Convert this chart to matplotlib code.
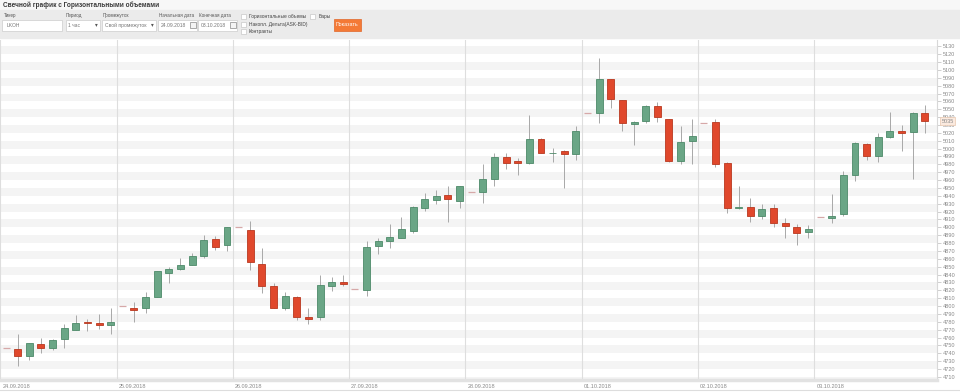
import numpy as np
import matplotlib
matplotlib.use("Agg")
import matplotlib.pyplot as plt
from matplotlib.patches import Rectangle
import matplotlib.transforms as mtransforms

plt.rcParams['font.family'] = ['Liberation Sans', 'DejaVu Sans']

# часовые свечи LKOH, 24.09.2018 - 03.10.2018 (10 свечей в день)
days = ["24.09.2018", "25.09.2018", "26.09.2018", "27.09.2018",
        "28.09.2018", "01.10.2018", "02.10.2018", "03.10.2018"]
opens = [4747, 4745, 4736, 4752, 4747, 4758, 4770, 4780, 4779, 4776,
         4800, 4798, 4798, 4812, 4842, 4847, 4852, 4864, 4885, 4877,
         4900, 4896, 4854, 4825, 4798, 4811, 4786, 4786, 4825, 4831,
         4821, 4820, 4876, 4882, 4887, 4895, 4925, 4935, 4941, 4933,
         4945, 4945, 4962, 4989, 4984, 4982, 5012, 4994, 4997, 4993,
         5045, 5045, 5088, 5062, 5031, 5035, 5054, 5037, 4984, 5010,
         5033, 5034, 4982, 4924, 4926, 4914, 4924, 4906, 4901, 4894,
         4913, 4912, 4917, 4966, 5006, 4991, 5015, 5023, 5021, 5045]
highs = [4747, 4765, 4753, 4760, 4758, 4777, 4788, 4784, 4790, 4798,
         4800, 4805, 4818, 4845, 4850, 4861, 4867, 4890, 4889, 4900,
         4900, 4908, 4874, 4829, 4818, 4813, 4798, 4839, 4837, 4840,
         4821, 4882, 4887, 4904, 4913, 4927, 4943, 4948, 4952, 4953,
         4945, 4980, 4995, 4995, 4988, 5043, 5013, 5001, 4998, 5029,
         5045, 5115, 5089, 5062, 5035, 5055, 5059, 5038, 5029, 5038,
         5033, 5037, 4983, 4953, 4937, 4930, 4930, 4912, 4904, 4903,
         4913, 4942, 4972, 5008, 5007, 5020, 5047, 5030, 5046, 5055]
lows = [4747, 4724, 4732, 4740, 4744, 4747, 4770, 4768, 4771, 4765,
        4800, 4780, 4791, 4811, 4829, 4846, 4852, 4861, 4871, 4870,
        4900, 4846, 4816, 4797, 4795, 4782, 4777, 4782, 4819, 4826,
        4821, 4813, 4866, 4874, 4886, 4893, 4921, 4930, 4907, 4925,
        4945, 4931, 4952, 4974, 4966, 4981, 4994, 4983, 4950, 4986,
        5045, 5032, 5052, 5023, 5004, 5033, 5034, 4983, 4980, 4981,
        5033, 4977, 4918, 4923, 4907, 4911, 4901, 4887, 4877, 4886,
        4913, 4905, 4915, 4959, 4985, 4983, 5014, 4997, 4961, 5020]
closes = [4747, 4737, 4753, 4747, 4757, 4772, 4779, 4779, 4776, 4780,
          4800, 4795, 4812, 4844, 4847, 4852, 4864, 4884, 4875, 4900,
          4900, 4856, 4825, 4798, 4813, 4786, 4784, 4827, 4830, 4828,
          4821, 4875, 4882, 4888, 4898, 4926, 4936, 4940, 4936, 4952,
          4945, 4962, 4989, 4982, 4982, 5012, 4995, 4995, 4993, 5022,
          5045, 5088, 5063, 5032, 5034, 5054, 5040, 4984, 5009, 5016,
          5033, 4980, 4924, 4926, 4914, 4923, 4906, 4902, 4893, 4898,
          4913, 4914, 4966, 5007, 4991, 5015, 5022, 5020, 5045, 5035]
yticks = list(range(4710, 5131, 10))

o = np.array(opens); h = np.array(highs); l = np.array(lows); c = np.array(closes)
x = np.arange(len(o))

fig = plt.figure(figsize=(9.6, 3.92), dpi=100)

# --- шапка с формой (пиксельные координаты) ---
ui = fig.add_axes([0, 0, 1, 1])
ui.set_xlim(0, 960)
ui.set_ylim(392, 0)
ui.axis('off')
ui.add_patch(Rectangle((0, 0), 960, 10, color='#f7f7f7'))
ui.add_patch(Rectangle((0, 10), 960, 28, color='#ebebeb'))
ui.plot([0, 960], [389.5, 389.5], color='#dddddd', lw=0.8)
ui.text(3, 5, "Свечной график с Горизонтальными объемами", fontsize=4.7,
        fontweight='bold', color='#3a3a3a', va='center')

lab = dict(fontsize=3.3, color='#555555', va='center')
for tx, t in [(4, "Тикер"), (66, "Период"), (103, "Промежуток"),
              (159, "Начальная дата"), (199, "Конечная дата")]:
    ui.text(tx, 15.5, t, **lab)
for bx, bw in [(2, 60), (66, 34), (102, 54), (158, 39), (198, 39)]:
    ui.add_patch(Rectangle((bx, 19.5), bw, 11, facecolor='white',
                           edgecolor='#cccccc', lw=0.5))
inp = dict(fontsize=3.6, color='#777777', va='center')
ui.text(7, 25, "LKOH", **inp)
ui.text(68, 25, "1 час", **inp)
ui.text(96, 25, "▾", fontsize=4, color='#555555', va='center', ha='center')
ui.text(105, 25, "Свой промежуток", **inp)
ui.text(152, 25, "▾", fontsize=4, color='#555555', va='center', ha='center')
ui.text(161, 25, "24.09.2018", **inp)
ui.text(201, 25, "03.10.2018", **inp)
for cx in (189.5, 229.5):
    ui.add_patch(Rectangle((cx, 22), 6, 6, facecolor='#f4f4f4',
                           edgecolor='#888888', lw=0.5))
for cx, cy in [(240.5, 14), (240.5, 21.5), (240.5, 29), (310, 14)]:
    ui.add_patch(Rectangle((cx, cy), 5, 5, facecolor='white',
                           edgecolor='#c8c8c8', lw=0.5))
chk = dict(fontsize=3.5, color='#444444', va='center')
ui.text(249, 16.5, "Горизонтальные объемы", **chk)
ui.text(319, 16.5, "Бары", **chk)
ui.text(249, 24, "Накопл. Дельта(ASK-BID)", **chk)
ui.text(249, 31.5, "Контракты", **chk)
ui.add_patch(Rectangle((333.5, 19), 27.5, 11.5, facecolor='#f47a36',
                       edgecolor='#e0662a', lw=0.5))
ui.text(347.2, 24.8, "Показать", fontsize=3.8, color='white',
        ha='center', va='center')

# --- график ---
ax = fig.add_axes([0, 1 - 380 / 392, 937 / 960, 340 / 392])
ax.set_xlim(-0.52, 80.05)
ax.set_ylim(4706, 5138)

for k in range(4700, 5140, 20):
    ax.axhspan(k, k + 10, color='#f4f4f4', lw=0, zorder=0)
for d in range(len(days)):
    ax.axvline(10 * d - 0.5, color='#dedede', lw=0.8, zorder=1)

up = c > o
dn = c < o
flat = c == o
ax.vlines(x, l, h, color='#a8a8a8', lw=0.7, zorder=2)
ax.bar(x[up], (c - o)[up], bottom=o[up], width=0.6, color='#6aa686',
       edgecolor='#4d8a69', lw=0.6, zorder=3)
ax.bar(x[dn], (o - c)[dn], bottom=c[dn], width=0.6, color='#e0482c',
       edgecolor='#b9381f', lw=0.6, zorder=3)
ax.hlines(c[flat], x[flat] - 0.3, x[flat] + 0.3, color='#d6a8a8',
          lw=0.9, zorder=3)

ax.yaxis.tick_right()
ax.set_yticks(yticks)
ax.tick_params(axis='y', labelsize=4, labelcolor='#8a8a8a', color='#c8c8c8',
               length=3, width=0.6, pad=1.5)
ax.set_xticks([10 * d - 0.5 for d in range(len(days))])
ax.set_xticklabels(days, ha='left')
ax.tick_params(axis='x', labelsize=4, labelcolor='#8a8a8a', length=0, pad=3)
offset = mtransforms.ScaledTranslation(2 / 100, 0, fig.dpi_scale_trans)
for lbl in ax.get_xticklabels():
    lbl.set_transform(lbl.get_transform() + offset)

for s in ('top', 'left'):
    ax.spines[s].set_visible(False)
ax.spines['right'].set_color('#d8d8d8')
ax.spines['right'].set_linewidth(0.8)
ax.spines['bottom'].set_color('#e2e2e2')
ax.spines['bottom'].set_linewidth(2.5)

trans = mtransforms.blended_transform_factory(ax.transAxes, ax.transData)
ax.text(1.005, closes[-1], f"{closes[-1]}", transform=trans, fontsize=4,
        color='#8a8a8a', va='center', ha='left',
        bbox=dict(boxstyle='square,pad=0.25', facecolor='#fbeadf',
                  edgecolor='#e8c8b0', lw=0.5))

fig.savefig("out.png", dpi=100)
